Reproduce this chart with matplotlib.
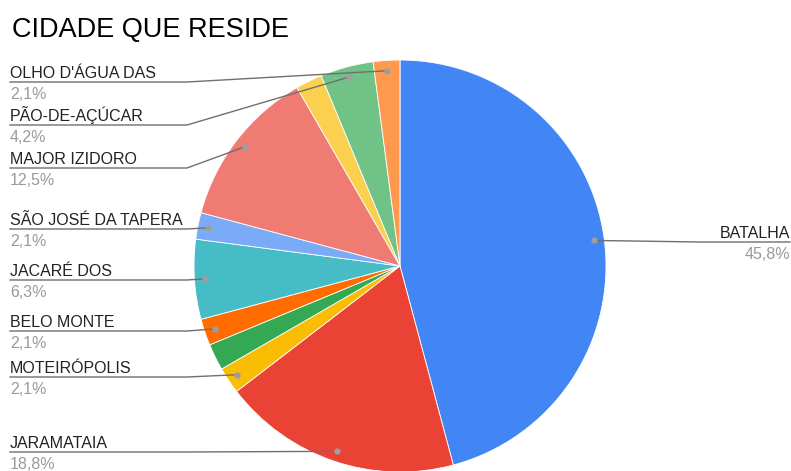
import numpy as np
from matplotlib import pyplot as plt

plt.rcParams['font.family'] = ['Liberation Sans', 'DejaVu Sans']

title = "CIDADE QUE RESIDE"
cities = ["BATALHA", "JARAMATAIA", "MOTEIRÓPOLIS", None, "BELO MONTE",
          "JACARÉ DOS", "SÃO JOSÉ DA TAPERA", "MAJOR IZIDORO", None,
          "PÃO-DE-AÇÚCAR", "OLHO D'ÁGUA DAS"]
counts = [22, 9, 1, 1, 1, 3, 1, 6, 1, 2, 1]
colors = ["#4285F4", "#EA4335", "#FBBC04", "#34A853", "#FF6D01", "#46BDC6",
          "#7BAAF7", "#F07B72", "#FCD04F", "#71C287", "#FF994D"]

# label lines, in pixels from the top of the image (layout only)
line_y = {0: 242, 1: 452, 2: 377, 4: 331, 5: 280, 6: 229, 7: 168, 9: 125, 10: 82}

W, H = 791, 471
cx, cy, R = 400, 266, 206

fig = plt.figure(figsize=(W / 100, H / 100), dpi=100)
ax = fig.add_axes([0, 0, 1, 1])

wedges, _ = ax.pie(counts, colors=colors, startangle=90, counterclock=False,
                   center=(cx, H - cy), radius=R,
                   wedgeprops=dict(edgecolor="white", linewidth=0.6))
ax.set_xlim(0, W)
ax.set_ylim(0, H)
ax.set_aspect("equal")
ax.axis("off")

total = sum(counts)
for i, w in enumerate(wedges):
    if cities[i] is None:
        continue
    mid = np.deg2rad((w.theta1 + w.theta2) / 2)
    axp = cx + 0.95 * R * np.cos(mid)
    ayp = (H - cy) + 0.95 * R * np.sin(mid)
    ly = H - line_y[i]
    p = np.floor(1000 * counts[i] / total + 0.5) / 10
    pct = f"{p:.1f}%".replace(".", ",")
    if axp > cx:
        xs = [W - 1, max(axp, 700), axp]
        tx, ha = W - 1, "right"
    else:
        xs = [10, min(axp, 187), axp]
        tx, ha = 10, "left"
    ax.plot(xs, [ly, ly, ayp], color="#6f6f6f", lw=1.0, zorder=3)
    ax.plot(axp, ayp, "o", ms=3.5, color="#9e9e9e", zorder=4)
    ax.text(tx, ly + 4, cities[i], ha=ha, va="baseline", fontsize=11.5,
            color="#222222")
    ax.text(tx, ly - 17, pct, ha=ha, va="baseline", fontsize=11.5,
            color="#9a9a9a")

ax.text(12, H - 37, title, ha="left", va="baseline", fontsize=19.5,
        color="#000000")

fig.savefig("out.png", dpi=100)
